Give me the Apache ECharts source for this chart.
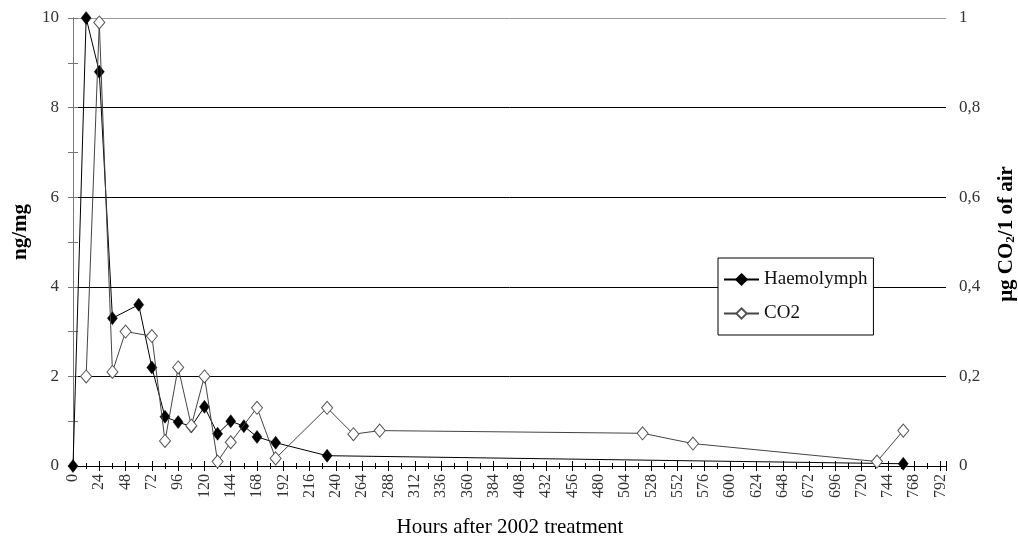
<!DOCTYPE html>
<html>
<head>
<meta charset="utf-8">
<script src="https://cdn.jsdelivr.net/npm/echarts@6/dist/echarts.min.js"></script>
<style>
html,body{margin:0;padding:0;background:#fff;}
#chart{width:1018px;height:541px;}
</style>
</head>
<body>
<div id="chart"></div>
<script>
// Data
var hoursHaemo = [0, 12, 24, 36, 60, 72, 84, 96, 108, 120, 132, 144, 156, 168, 185, 232, 758];
var haemolymph = [0, 10, 8.8, 3.3, 3.6, 2.2, 1.1, 0.98, 0.88, 1.32, 0.72, 1.0, 0.89, 0.65, 0.52, 0.23, 0.05];
var hoursCO2 = [12, 24, 36, 48, 72, 84, 96, 108, 120, 132, 144, 168, 185, 232, 256, 280, 520, 566, 734, 758];
var co2 = [0.2, 0.99, 0.21, 0.30, 0.29, 0.056, 0.22, 0.09, 0.2, 0.01, 0.053, 0.13, 0.017, 0.13, 0.071, 0.079, 0.073, 0.05, 0.01, 0.079];
var seriesNames = ['Haemolymph', 'CO2'];
var titleX = 'Hours after 2002 treatment';
var titleYLeft = 'ng/mg';

var FONT = "'Liberation Serif', 'DejaVu Serif', serif";
function pairs(xs, ys){ return xs.map(function(x,i){ return [x, ys[i]]; }); }

var chart = echarts.init(document.getElementById('chart'), null, {renderer:'canvas'});
var xCommon = {
  type: 'value', min: 0, max: 797, interval: 24, position: 'bottom'
};
chart.setOption({
  backgroundColor: '#fff',
  animation: false,
  textStyle: {fontFamily: FONT},
  grid: {left: 73, right: 72, top: 18, bottom: 75, containLabel: false},
  legend: {
    orient: 'vertical', left: 718, top: 258,
    padding: [12, 6, 12, 5], itemGap: 15, itemWidth: 35, itemHeight: 13,
    itemTextGap: 3,
    backgroundColor: '#fff', borderColor: '#000', borderWidth: 1,
    textStyle: {fontFamily: FONT, fontSize: 19, color: '#111'},
    data: seriesNames
  },
  graphic: [
    {type: 'text', x: 21, y: 232, rotation: Math.PI/2, z: 10,
      style: {text: titleYLeft, fontFamily: FONT, fontSize: 21, fontWeight: 'bold', fill: '#000',
        align: 'center', verticalAlign: 'middle', textAlign: 'center', textVerticalAlign: 'middle'}},
    {type: 'text', x: 1007, y: 234, rotation: Math.PI/2, z: 10,
      style: {text: '{n|μg CO}{s|2}{n|/1 of air}', fontFamily: FONT, fontSize: 21, fontWeight: 'bold', fill: '#000',
        align: 'center', verticalAlign: 'middle', textAlign: 'center', textVerticalAlign: 'middle',
        rich: {
          n: {fontFamily: FONT, fontSize: 21, fontWeight: 'bold', fill: '#000', color: '#000'},
          s: {fontFamily: FONT, fontSize: 13, fontWeight: 'bold', fill: '#000', color: '#000', verticalAlign: 'bottom', padding: [8,0,0,0]}
        }}},
    {type: 'text', x: 510, y: 527, z: 10,
      style: {text: titleX, fontFamily: FONT, fontSize: 21, fill: '#000',
        align: 'center', verticalAlign: 'middle', textAlign: 'center', textVerticalAlign: 'middle'}}
  ],
  xAxis: [
    Object.assign({}, xCommon, {
      axisLine: {show: true, onZero: false, lineStyle: {color: '#000', width: 1}},
      axisTick: {show: true, length: 5, lineStyle: {color: '#000'}},
      minorTick: {show: true, splitNumber: 2, length: 3, lineStyle: {color: '#000'}},
      axisLabel: {rotate: 90, margin: 8, fontFamily: FONT, fontSize: 16, color: '#333', showMaxLabel: false,
        formatter: function(v){ return (v % 24 === 0) ? String(v) : ''; }},
      splitLine: {show: false}
    }),
    Object.assign({}, xCommon, {
      axisLine: {show: false, onZero: false},
      axisTick: {show: true, inside: true, length: 5, lineStyle: {color: '#000'}},
      minorTick: {show: true, splitNumber: 2, length: 3, lineStyle: {color: '#000'}},
      axisLabel: {show: false},
      splitLine: {show: false}
    })
  ],
  yAxis: [
    {
      type: 'value', min: 0, max: 10, interval: 2, position: 'left',
      axisLine: {show: true, lineStyle: {color: '#777'}},
      axisTick: {show: true, length: 5, lineStyle: {color: '#777'}},
      minorTick: {show: true, splitNumber: 2, length: 5, lineStyle: {color: '#777'}},
      axisLabel: {margin: 14, fontFamily: FONT, fontSize: 17, color: '#333'},
      splitLine: {show: true, lineStyle: {color: ['#000','#000','#000','#000','#000','#999'], width: 1}}
    },
    {
      type: 'value', min: 0, max: 1, interval: 0.2, position: 'right',
      axisLine: {show: true, lineStyle: {color: '#777'}},
      axisTick: {show: true, length: 5, lineStyle: {color: '#777'}},
      minorTick: {show: true, splitNumber: 2, length: 5, lineStyle: {color: '#777'}},
      axisLabel: {margin: 13, fontFamily: FONT, fontSize: 17, color: '#333',
        formatter: function(v){ return String(Math.round(v*10)/10).replace('.', ','); }},
      splitLine: {show: false}
    }
  ],
  series: [
    {
      name: seriesNames[0], type: 'line', xAxisIndex: 0, yAxisIndex: 0,
      data: pairs(hoursHaemo, haemolymph),
      showAllSymbol: true, symbol: 'diamond', symbolSize: [10, 13],
      lineStyle: {color: '#000', width: 1},
      itemStyle: {color: '#000', borderColor: '#000', borderWidth: 0.5},
      z: 3
    },
    {
      name: seriesNames[1], type: 'line', xAxisIndex: 0, yAxisIndex: 1,
      data: pairs(hoursCO2, co2),
      showAllSymbol: true, symbol: 'diamond', symbolSize: [11, 13],
      lineStyle: {color: '#444', width: 1},
      itemStyle: {color: '#fff', borderColor: '#555', borderWidth: 1},
      z: 4
    }
  ]
});
</script>
</body>
</html>
